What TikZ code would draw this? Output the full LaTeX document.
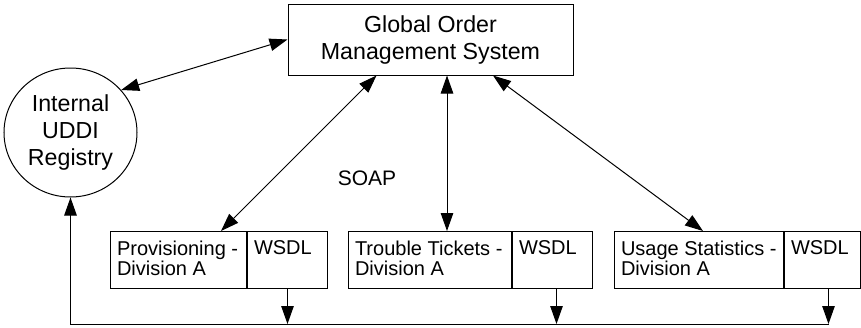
\documentclass[tikz,border=0pt]{standalone}
\usepackage{fontspec}
\setmainfont{Liberation Sans}
\usetikzlibrary{arrows.meta,positioning,shapes.geometric}

\tikzset{
    big/.style={font=\fontsize{23.2}{27}\selectfont},
    small/.style={font=\fontsize{20}{20}\selectfont},
    part/.style={draw, rectangle, anchor=north west, minimum height=57pt, inner sep=0pt},
    wsdlpart/.style={draw, rectangle, minimum width=80pt, minimum height=57pt, inner sep=0pt, right=0pt of #1},
    parttext/.style={small, anchor=north west, align=left, inner xsep=6.5pt, inner ysep=9.5pt},
}

\begin{document}
\begin{tikzpicture}[x=1pt, y=-1pt, line width=1pt,
    >={Triangle[length=18pt, width=12.5pt]}]
    \useasboundingbox (0,0) rectangle (861,327);

    % order system and registry
    \node[draw, rectangle, big, align=center, minimum width=285pt, minimum height=71pt] (gom) at (430.5,39.5) {Global Order\\Management System};
    \node[draw, ellipse, big, align=center, minimum width=133pt, minimum height=129pt, inner sep=0pt] (uddi) at (70.5,132.5) {Internal\\UDDI\\Registry};
    \node[font=\fontsize{21}{25}\selectfont] (soap) at (367,178) {SOAP};

    % the three divisions, each with its WSDL part
    \node[part, minimum width=136pt] (prov) at (110,231) {};
    \node[wsdlpart=prov] (provw) {};
    \node[parttext] at (prov.north west) {Provisioning -\\Division A};
    \node[parttext] at (provw.north west) {WSDL};

    \node[part, minimum width=163pt] (tick) at (348,231) {};
    \node[wsdlpart=tick] (tickw) {};
    \node[parttext] at (tick.north west) {Trouble Tickets -\\Division A};
    \node[parttext] at (tickw.north west) {WSDL};

    \node[part, minimum width=169pt] (usage) at (614,231) {};
    \node[wsdlpart=usage, minimum width=76pt] (usagew) {};
    \node[parttext] at (usage.north west) {Usage Statistics -\\Division A};
    \node[parttext] at (usagew.north west) {WSDL};

    % SOAP links
    \draw[<->] (uddi.40) -- (gom.west);
    \draw[<->] ([xshift=-54pt]gom.south) -- ([xshift=-26pt]prov.north east);
    \coordinate (t1) at ([xshift=16.5pt]gom.south);
    \draw[<->] (t1) -- (t1 |- tick.north);
    \draw[<->] ([xshift=62.5pt]gom.south) -- ([xshift=4pt]usage.north);

    % publishing to the registry
    \draw[->] (provw.south) -- ++(0,35);
    \draw[->] ([xshift=4pt]tickw.south) -- ++(0,35);
    \coordinate (u3) at ([xshift=6pt]usagew.south);
    \draw[->] (u3) -- ++(0,35) coordinate (bend);
    \draw[->] (bend) -| (uddi.south);
\end{tikzpicture}
\end{document}
